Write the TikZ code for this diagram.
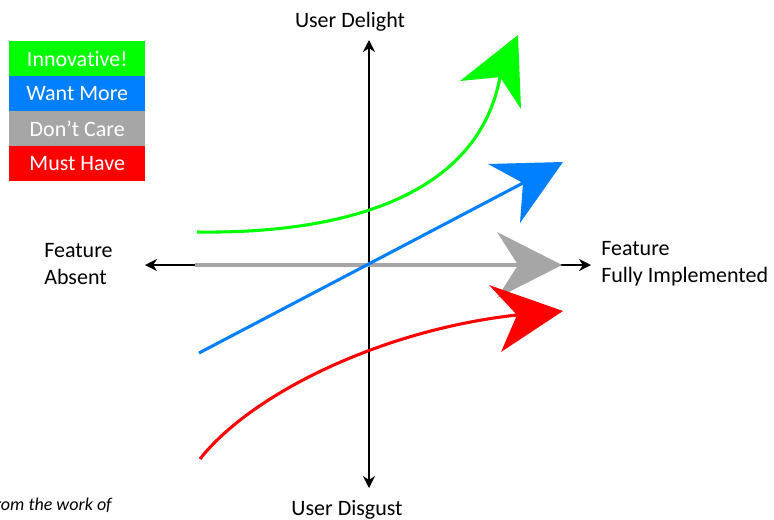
\documentclass[tikz,border=0pt]{standalone}
\usepackage{fontspec}
\setmainfont{Carlito}[Ligatures={NoCommon}]
\usetikzlibrary{arrows.meta}
\definecolor{cgreen}{RGB}{0,255,0}
\definecolor{cblue}{RGB}{0,128,255}
\definecolor{cgray}{RGB}{166,166,166}
\definecolor{cred}{RGB}{255,0,0}
\tikzset{
  lbl/.style={font=\fontsize{16.5pt}{20.25pt}\selectfont, inner sep=0pt},
  key/.style={lbl, text=white, minimum width=102pt, minimum height=26.25pt, anchor=north west},
  axis/.style={line width=2.2pt, black, {Stealth[length=9pt,width=9pt]}-{Stealth[length=9pt,width=9pt]}},
  trend/.style={line width=2.3pt},
}
\begin{document}
\begin{tikzpicture}[x=0.75pt,y=-0.75pt]
\useasboundingbox (0,0) rectangle (774,519);
\clip (0,0) rectangle (774,519);

% legend
\node[key, fill=cgreen] (kInn) at (9,41)  {Innova\kern0pt tive!};
\node[key, fill=cblue]  (kWant) at (9,76) {Want More};
\node[key, fill=cgray]  (kDont) at (9,111) {Don’t Care};
\node[key, fill=cred]   (kMust) at (9,146) {Must Have};

% axes
\coordinate (top) at (369,40);
\coordinate (bot) at (369,488);
\coordinate (left) at (145,265);
\coordinate (right) at (591,265);
\draw[axis] (bot) -- (top);
\draw[axis] (left) -- (right);

% axis labels
\node[lbl, anchor=base] (up) at (350,27) {User Delight};
\node[lbl, anchor=base] (down) at (347,515) {User Disgust};
\node[lbl, anchor=west, align=left] (absent) at (44,264) {Feature\\Absent};
\node[lbl, anchor=west, align=left] (full) at (601,264) {Feature\\Fully Implemented};

% Don't Care: flat
\coordinate (g0) at (195,265);
\coordinate (gN) at (518,265);
\draw[trend, cgray, line width=3pt] (g0) -- (gN);
\fill[cgray] (562,265) -- (497,232) -- (gN) -- (497,298) -- cycle;

% Want More: linear
\coordinate (b0) at (199,353);
\coordinate (bN) at (523,183);
\draw[trend, cblue] (b0) -- (bN);
\fill[cblue] (563,162) -- (488,164) -- (bN) -- (520,223) -- cycle;

% Innovative: exponential
\coordinate (i0) at (197,232);
\coordinate (iN) at (500,77);
\draw[trend, cgreen] (i0) .. controls (345,234) and (478,196) .. (iN);
\fill[cgreen] (518,35) -- (460,81) -- (iN) -- (521,109) -- cycle;

% Must Have: saturating
\coordinate (m0) at (200,459);
\coordinate (mN) at (517,315);
\draw[trend, cred] (m0) .. controls (250,395) and (380,330) .. (mN);
\fill[cred] (563,311) -- (489,285) -- (mN) -- (501,352) -- cycle;

% credit line
\node[font=\fontsize{13.5pt}{16pt}\selectfont\itshape, anchor=base east, inner sep=0pt] (credit) at (112,510) {from the work of};
\end{tikzpicture}
\end{document}
